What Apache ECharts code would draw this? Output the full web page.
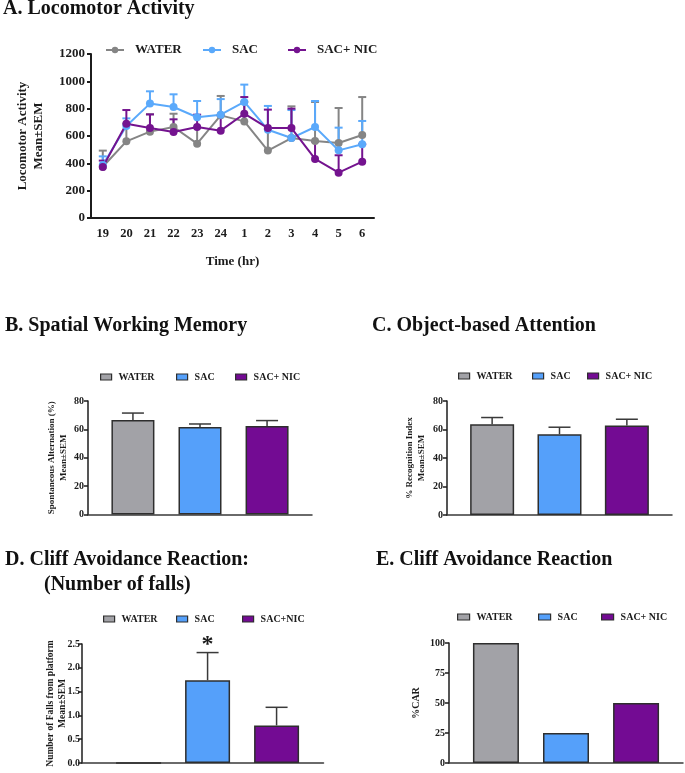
<!DOCTYPE html>
<html>
<head>
<meta charset="utf-8">
<script src="https://cdn.jsdelivr.net/npm/echarts@6/dist/echarts.min.js"></script>
<style>html,body{margin:0;padding:0;background:#fff}#c{width:685px;height:773px}</style>
</head>
<body>
<div id="c"></div>
<script>
// ---------- DATA ----------
const hours = ['19','20','21','22','23','24','1','2','3','4','5','6'];
const waterMean  = [375, 561, 632, 666, 544, 751, 707, 493, 585, 563, 549, 607];
const waterUpper = [493, 690, 759, 763, 660, 893, 850, 650, 817, 849, 805, 885];
const sacMean    = [388, 673, 837, 812, 737, 756, 849, 646, 585, 666, 495, 539];
const sacUpper   = [451, 729, 927, 905, 856, 870, 976, 820, 790, 856, 661, 710];
const nicMean    = [373, 690, 658, 629, 666, 639, 763, 658, 658, 432, 332, 412];
const nicUpper   = [420, 790, 758, 722, 756, 750, 885, 793, 800, 560, 459, 540];

const groups  = ['WATER', 'SAC', 'SAC+ NIC'];
const groupsD = ['WATER', 'SAC', 'SAC+NIC'];
const swmMean  = [66.6, 61.7, 62.4];
const swmUpper = [71.5, 63.8, 66.2];
const obaMean  = [63.7, 56.7, 62.8];
const obaUpper = [68.4, 61.6, 67.2];
const fallsMean  = [0, 1.74, 0.79];
const fallsUpper = [null, 2.32, 1.17];
const fallsSig   = ['', '*', ''];
const carPct = [100, 25, 50];

const yTicksA = {min: 0, max: 1200, interval: 200};
const yTicksB = {min: 0, max: 80, interval: 20};
const yTicksD = {min: 0, max: 2.5, interval: 0.5};
const yTicksE = {min: 0, max: 100, interval: 25};

// ---------- STYLE ----------
const FONT = 'Liberation Serif';
const INK = '#1c1c1c';
const lineColors = ['#858585', '#5aa9fb', '#74138f'];
const barColors  = ['#a2a2a7', '#55a0fa', '#730b93'];
const BORDER = '#2e2e2e';

function txt(size, extra) { return Object.assign({fontFamily: FONT, fontWeight: 'bold', fontSize: size, color: INK}, extra || {}); }

function errRender(capW, lw, color, sig) {
  return function (params, api) {
    const x = api.value(0), m = api.value(1), u = api.value(2);
    if (u == null || isNaN(u)) return null;
    const a = api.coord([x, m]), b = api.coord([x, u]);
    const ch = [
      {type: 'line', shape: {x1: a[0], y1: a[1], x2: b[0], y2: b[1]}, style: {stroke: color, lineWidth: lw}},
      {type: 'line', shape: {x1: b[0] - capW / 2, y1: b[1], x2: b[0] + capW / 2, y2: b[1]}, style: {stroke: color, lineWidth: lw}}
    ];
    const s = sig ? sig[params.dataIndex] : '';
    if (s) ch.push({type: 'text', x: b[0], y: b[1] + 4, style: {text: s, textAlign: 'center', textVerticalAlign: 'bottom', font: 'bold 24px ' + FONT, fill: INK}});
    return {type: 'group', children: ch};
  };
}

const grids = [
  {left: 91, top: 54, width: 283, height: 164},
  {left: 88, top: 401, width: 224, height: 113.5},
  {left: 447, top: 401, width: 225, height: 114},
  {left: 82, top: 644, width: 241.5, height: 119},
  {left: 449, top: 643, width: 234, height: 120}
];

const plain = v => String(v);

const xAxes = [
  {type: 'category', gridIndex: 0, data: hours, boundaryGap: true,
   axisLine: {lineStyle: {color: INK, width: 2}}, axisTick: {alignWithLabel: true, length: 4, lineStyle: {color: INK, width: 2}},
   axisLabel: txt(12.5, {margin: 9}), splitLine: {show: false},
   name: 'Time (hr)', nameLocation: 'middle', nameGap: 37, nameTextStyle: txt(13)}
];
const barXRanges = [[-0.67, 2.67], [-0.67, 2.67], [-0.82, 2.68], [-0.67, 2.67]];
barXRanges.forEach((r, i) => xAxes.push({
  type: 'value', gridIndex: i + 1, min: r[0], max: r[1],
  axisLine: {onZero: false, lineStyle: {color: '#3a3a3a', width: 1.5}}, axisTick: {show: false}, axisLabel: {show: false}, splitLine: {show: false}
}));

function yAx(gi, ticks, name, nameGap, size, nsize, fmt, lw, margin) {
  return Object.assign({type: 'value', gridIndex: gi,
    axisLine: {show: true, onZero: false, lineStyle: {color: INK, width: lw}},
    axisTick: {show: true, length: 4, lineStyle: {color: INK, width: lw}},
    axisLabel: txt(size, {margin: margin, formatter: fmt}), splitLine: {show: false},
    name: name, nameLocation: 'middle', nameRotate: 90, nameGap: nameGap, nameMoveOverlap: false,
    nameTextStyle: txt(nsize, {lineHeight: nsize + 3})}, ticks);
}
const yAxes = [
  yAx(0, yTicksA, 'Locomotor Activity\nMean±SEM', 44, 13, 13, plain, 2, 6),
  yAx(1, yTicksB, 'Spontaneous Alternation (%)\nMean±SEM', 18, 10, 9, plain, 1.5, 4),
  yAx(2, yTicksB, '% Recognition Index\nMean±SEM', 19, 10, 9, plain, 1.5, 4),
  yAx(3, yTicksD, 'Number of Falls from platform\nMean±SEM', 13, 10, 9.5, v => v.toFixed(1), 1.5, 2),
  yAx(4, yTicksE, '%CAR', 26, 10, 10, plain, 1.5, 4)
];

const series = [];
// Panel A lines
[[groups[0], waterMean, waterUpper], [groups[1], sacMean, sacUpper], [groups[2], nicMean, nicUpper]].forEach((g, i) => {
  series.push({type: 'custom', xAxisIndex: 0, yAxisIndex: 0, z: 1, silent: true,
    renderItem: errRender(8, 2, lineColors[i]),
    data: g[1].map((m, k) => [k, m, g[2][k]])});
});
[[groups[0], waterMean], [groups[1], sacMean], [groups[2], nicMean]].forEach((g, i) => {
  series.push({type: 'line', name: g[0], xAxisIndex: 0, yAxisIndex: 0, z: 3, data: g[1],
    symbol: 'circle', symbolSize: 8, color: lineColors[i], itemStyle: {color: lineColors[i]},
    lineStyle: {color: lineColors[i], width: 2}});
});

// Bar panels
function barPanel(ai, names, means, uppers, widths, sig) {
  names.forEach((n, i) => {
    series.push({type: 'bar', name: n, xAxisIndex: ai, yAxisIndex: ai, barWidth: widths, barGap: '-100%',
      itemStyle: {color: barColors[i], borderColor: BORDER, borderWidth: 1.5},
      data: [[i, means[i]]], z: 2});
  });
  if (uppers) series.push({type: 'custom', xAxisIndex: ai, yAxisIndex: ai, z: 1, silent: true,
    renderItem: errRender(22, 1.5, '#3a3a3a', sig),
    data: means.map((m, k) => [k, m, uppers[k]])});
}
barPanel(1, groups, swmMean, swmUpper, 43);
barPanel(2, groups, obaMean, obaUpper, 44);
barPanel(3, groupsD, fallsMean, fallsUpper, 45, fallsSig);
barPanel(4, groups, carPct, null, 46);

// Legends (one item each, placed individually)
const legends = [];
function lineLeg(name, i, left, top) {
  legends.push({left: left, top: top, padding: 0, selectedMode: false, itemWidth: 18, itemHeight: 8,
    textStyle: txt(13, {padding: [0, 0, 0, 6], lineHeight: 14}), data: [{name: name}]});
}
function barLeg(name, i, left, top, w, h, size) {
  legends.push({left: left, top: top, padding: 0, selectedMode: false, itemWidth: w, itemHeight: h,
    textStyle: txt(size, {padding: [0, 0, 0, 2], lineHeight: 12}),
    data: [{name: name, icon: 'rect', itemStyle: {color: barColors[i], borderColor: BORDER, borderWidth: 1.2}}]});
}
lineLeg(groups[0], 0, 105, 43); lineLeg(groups[1], 1, 202, 43); lineLeg(groups[2], 2, 287, 43);
barLeg(groups[0], 0, 100, 371, 11, 6, 10); barLeg(groups[1], 1, 176, 371, 11, 6, 10); barLeg(groups[2], 2, 235, 371, 11, 6, 10);
barLeg(groups[0], 0, 458, 370, 11, 6, 10); barLeg(groups[1], 1, 532, 370, 11, 6, 10); barLeg(groups[2], 2, 587, 370, 11, 6, 10);
barLeg(groupsD[0], 0, 103, 613, 11, 6, 10); barLeg(groupsD[1], 1, 176, 613, 11, 6, 10); barLeg(groupsD[2], 2, 242, 613, 11, 6, 10);
barLeg(groups[0], 0, 457, 611, 12, 6, 10); barLeg(groups[1], 1, 538, 611, 12, 6, 10); barLeg(groups[2], 2, 601, 611, 12, 6, 10);

const titleStyle = txt(20, {color: '#111'});
const titles = [
  {text: 'A. Locomotor Activity', left: 3, top: -1, padding: 0, textStyle: titleStyle},
  {text: 'B. Spatial Working Memory', left: 5, top: 316, padding: 0, textStyle: titleStyle},
  {text: 'C. Object-based Attention', left: 372, top: 316, padding: 0, textStyle: titleStyle},
  {text: 'D. Cliff Avoidance Reaction:', left: 5, top: 550, padding: 0, textStyle: titleStyle},
  {text: '(Number of falls)', left: 44, top: 575, padding: 0, textStyle: titleStyle},
  {text: 'E. Cliff Avoidance Reaction', left: 376, top: 550, padding: 0, textStyle: titleStyle}
];

const chart = echarts.init(document.getElementById('c'), null, {renderer: 'canvas'});
chart.setOption({
  animation: false,
  backgroundColor: '#fff',
  title: titles,
  legend: legends,
  grid: grids,
  xAxis: xAxes,
  yAxis: yAxes,
  series: series
});
</script>
</body>
</html>
